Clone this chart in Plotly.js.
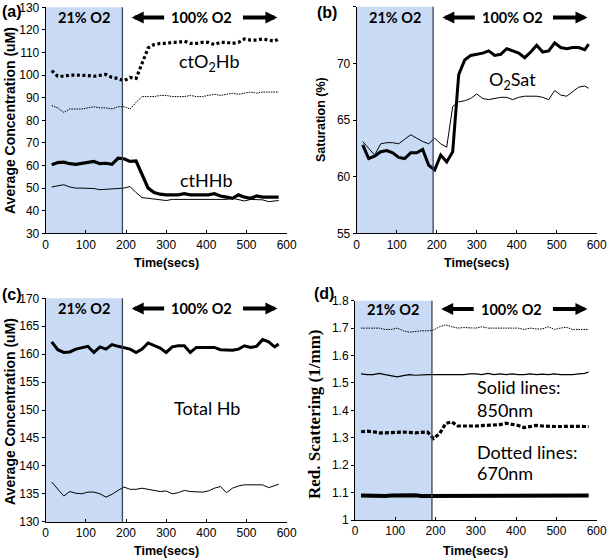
<!DOCTYPE html>
<html>
<head>
<meta charset="utf-8">
<script src="https://cdn.plot.ly/plotly-3.0.1.min.js"></script>
<style>html,body{margin:0;padding:0;background:#fff;}#chart{width:609px;height:560px;}</style>
</head>
<body>
<div id="chart"></div>
<script>
// ---- data ----
const time = [15,30,45,60,75,90,105,120,135,150,165,180,195,210,225,240,255,270,285,300,315,330,345,360,375,390,405,420,435,450,465,480,495,510,525,540,555,570,580];

// (a) concentrations (uM)
const aO2HbThick = [102,99.5,99.5,100,100,100,99.8,99.5,99.8,100.3,99,98.5,97.5,99,98.5,105.5,112,113.5,114,114,114.5,114.5,115,114,114,114.5,114.5,113.5,114.5,114.5,114,114.5,116,115.5,115.5,116,115.5,115,116];
const aO2HbThin = [86.5,85.5,83.5,85,85,85,85.5,86,85.5,85.5,85,86,86,85,88,90.5,90.5,90.5,91,91,90.5,90.5,90.5,91,90.5,90.5,91,91.5,91,91.5,92,91.5,92,92.5,92,92.5,92.5,92.5,92.5];
const aHHbThick = [60.3,61.3,61.5,60.8,60.5,61,61.5,61.8,60.8,61,60.5,63.2,63,61.8,62,56,50,48,47.3,47,47,47,47.5,47,47,47,47,47.5,46.5,46,45.5,47,46,45.5,46.5,46,46,46,46];
const aHHbThin = [50.5,51,51.5,50.5,50,50,50,49.8,49.3,49.5,49.8,50,50,50.7,48,45.8,45.5,45.3,45,44.5,45,45,45,45,45,45,45,45,45,45,45.5,45,44.3,45,45,44.8,44,44.3,44.5];

// (b) saturation (%)
const bSatThick = [62.8,61.6,61.8,62.2,62.3,62.1,61.7,61.6,62.1,62.1,62.4,61,60.6,61.9,61.3,62.2,69,70.3,70.7,70.8,70.9,71.1,70.7,70.8,71.3,71.1,70.9,70.5,71,71.6,71,71.1,71.8,71.4,71.3,71.4,71.4,71.2,71.7];
const bSatThin = [63.1,62.5,61.9,62.9,63,63,62.9,63.3,63.7,63.4,63.1,62.9,63.4,62.9,62.6,66.2,66.6,66.7,66.9,67.3,66.9,66.8,66.9,67,67,66.8,67,67.1,67.1,67.1,67,66.8,67.6,67.2,67.1,67.5,67.9,68,67.8];

// (c) total Hb (uM)
const cTotThick = [162.2,160.8,160.3,160.4,160.9,161.2,161.4,160.3,161.3,160.9,161.7,161.4,161.1,160.9,160.3,160.9,162,161.5,161.1,160.3,161.3,161.5,161.5,160.3,161.2,161.2,161.2,161.2,160.8,160.7,160.7,160.9,161.5,161.2,161.4,162.6,162.2,161.3,161.8];
const cTotThin = [137.1,135.8,134.6,135.4,135.1,135,135.3,135.3,135,134.4,134.9,135.6,136.2,135.8,135.8,136,135.8,135.6,135.4,135.5,135,135.2,135.6,135.4,135.4,135.3,135.5,136,136.3,135.2,136,136.4,136.6,136.6,136.6,136.6,136.1,136.5,136.7];

// (d) reduced scattering (1/mm)
const d670Thin = [1.70,1.70,1.70,1.70,1.695,1.695,1.70,1.69,1.685,1.688,1.69,1.69,1.693,1.705,1.712,1.705,1.70,1.702,1.70,1.70,1.705,1.70,1.70,1.70,1.70,1.698,1.70,1.695,1.70,1.697,1.697,1.705,1.695,1.70,1.703,1.695,1.695,1.695,1.695];
const d850Thin = [1.533,1.53,1.53,1.535,1.53,1.527,1.522,1.527,1.53,1.528,1.53,1.53,1.53,1.53,1.53,1.532,1.53,1.53,1.533,1.533,1.53,1.535,1.53,1.533,1.53,1.533,1.53,1.53,1.533,1.53,1.532,1.53,1.533,1.53,1.53,1.53,1.533,1.535,1.54];
const d670Thick = [1.322,1.324,1.322,1.318,1.318,1.318,1.32,1.321,1.319,1.318,1.32,1.321,1.297,1.315,1.352,1.358,1.343,1.342,1.343,1.343,1.344,1.344,1.345,1.348,1.353,1.35,1.345,1.337,1.34,1.345,1.343,1.341,1.341,1.341,1.342,1.341,1.342,1.341,1.341];
const d850Thick = [1.089,1.088,1.088,1.089,1.088,1.089,1.09,1.089,1.091,1.09,1.088,1.088,1.088,1.087,1.089,1.09,1.088,1.09,1.089,1.088,1.089,1.089,1.088,1.088,1.089,1.088,1.088,1.089,1.088,1.087,1.088,1.089,1.088,1.088,1.089,1.088,1.089,1.088,1.089];

const xTickVals = [0,100,200,300,400,500,600];
const hypoxiaEnd = 191;

// ---- traces ----
function tr(y, xa, ya, width, dash) {
  return {x: time, y: y, xaxis: xa, yaxis: ya, type: 'scatter', mode: 'lines',
          line: {color: '#000', width: width, dash: dash || 'solid'}, hoverinfo: 'skip'};
}
const DOT_THICK = '3px,2.5px';
const DOT_THIN = '1.5px,1px';
const data = [
  tr(aO2HbThin, 'x', 'y', 1, DOT_THIN),
  tr(aO2HbThick, 'x', 'y', 3.2, DOT_THICK),
  tr(aHHbThin, 'x', 'y', 1, 'solid'),
  tr(aHHbThick, 'x', 'y', 3.2, 'solid'),
  tr(bSatThin, 'x2', 'y2', 1, 'solid'),
  tr(bSatThick, 'x2', 'y2', 3, 'solid'),
  tr(cTotThin, 'x3', 'y3', 1, 'solid'),
  tr(cTotThick, 'x3', 'y3', 3, 'solid'),
  tr(d670Thin, 'x4', 'y4', 1, DOT_THIN),
  tr(d850Thin, 'x4', 'y4', 1.2, 'solid'),
  tr(d670Thick, 'x4', 'y4', 3.2, '4px,2px'),
  tr(d850Thick, 'x4', 'y4', 4, 'solid')
];

// ---- layout ----
const W = 609, H = 560;
const tickFont = {family: 'Liberation Sans, Arial, sans-serif', size: 12, color: '#000'};
function xax(d0, d1, anchor) {
  return {domain: [d0 / W, d1 / W], anchor: anchor, range: [0, 600], tickvals: xTickVals,
          showline: true, linecolor: '#000', linewidth: 1, mirror: false, showgrid: false,
          zeroline: false, ticks: 'inside', ticklen: 3, tickcolor: '#000', tickfont: tickFont, fixedrange: true};
}
function yax(top, bottom, anchor, range, dtick) {
  return {domain: [1 - bottom / H, 1 - top / H], anchor: anchor, range: range, dtick: dtick,
          showline: true, linecolor: '#000', linewidth: 1, mirror: false, showgrid: false,
          zeroline: false, ticks: 'outside', ticklen: 3, tickcolor: '#000', tickfont: tickFont, fixedrange: true};
}

const panels = [
  {xa: 'x', ya: 'y', left: 45.7, right: 286.7, top: 7.3, bottom: 233.3},
  {xa: 'x2', ya: 'y2', left: 356.7, right: 596.7, top: 6.7, bottom: 233.3},
  {xa: 'x3', ya: 'y3', left: 45.7, right: 286.7, top: 298.3, bottom: 521.7},
  {xa: 'x4', ya: 'y4', left: 355, right: 596.7, top: 300.7, bottom: 520}
];

const shapes = [];
const annotations = [];
const headerY = [17.5, 17.5, 308.5, 309];
const lblFont = {family: 'Lato, sans-serif', size: 14.5, color: '#000'};
panels.forEach((p, i) => {
  const yd = p.ya + ' domain';
  shapes.push({type: 'rect', xref: p.xa, yref: yd, x0: 0, x1: hypoxiaEnd, y0: 0, y1: 1,
               fillcolor: '#c8daf4', line: {width: 0}, layer: 'below'});
  shapes.push({type: 'line', xref: p.xa, yref: yd, x0: hypoxiaEnd, x1: hypoxiaEnd, y0: 0, y1: 1,
               line: {color: '#3a4556', width: 1.3}});
  const hy = 1 - headerY[i] / H;
  annotations.push({xref: p.xa, yref: 'paper', x: 95, y: hy, text: '<b>21% O2</b>', showarrow: false,
                    font: lblFont, xanchor: 'center', yanchor: 'middle'});
  annotations.push({xref: p.xa, yref: 'paper', x: 389, y: hy, text: '<b>100% O2</b>', showarrow: false,
                    font: lblFont, xanchor: 'center', yanchor: 'middle'});
  annotations.push({xref: p.xa, yref: 'paper', x: 214, y: hy, ax: 34, ay: 0, text: '', showarrow: true,
                    arrowhead: 2, arrowsize: 0.6, arrowwidth: 4, arrowcolor: '#000'});
  annotations.push({xref: p.xa, yref: 'paper', x: 577, y: hy, ax: -36, ay: 0, text: '', showarrow: true,
                    arrowhead: 2, arrowsize: 0.6, arrowwidth: 4, arrowcolor: '#000'});
  annotations.push({xref: 'paper', yref: 'paper', x: (p.left + p.right) / 2 / W, y: 1 - ((i < 2) ? 263 : 551) / H,
                    text: '<b>Time(secs)</b>', showarrow: false, xanchor: 'center', yanchor: 'middle',
                    font: {family: 'Liberation Sans, Arial, sans-serif', size: 12.5, color: '#000'}});
});

// y-axis titles
const yTitleFont = {family: 'Liberation Sans, Arial, sans-serif', size: 14, color: '#000'};
annotations.push({xref: 'paper', yref: 'paper', x: 10 / W, y: 1 - 121 / H, textangle: -90, showarrow: false,
                  text: '<b>Average Concentration (uM)</b>', font: yTitleFont, xanchor: 'center', yanchor: 'middle'});
annotations.push({xref: 'paper', yref: 'paper', x: 321 / W, y: 1 - 120 / H, textangle: -90, showarrow: false,
                  text: '<b>Saturation (%)</b>', font: {family: 'Liberation Sans, Arial, sans-serif', size: 12.5, color: '#000'},
                  xanchor: 'center', yanchor: 'middle'});
annotations.push({xref: 'paper', yref: 'paper', x: 10 / W, y: 1 - 412 / H, textangle: -90, showarrow: false,
                  text: '<b>Average Concentration (uM)</b>', font: yTitleFont, xanchor: 'center', yanchor: 'middle'});
annotations.push({xref: 'paper', yref: 'paper', x: 314 / W, y: 1 - 414 / H, textangle: -90, showarrow: false,
                  text: '<b>Red. Scattering (1/mm)</b>', font: {family: 'Liberation Serif, Times New Roman, serif', size: 17, color: '#000'},
                  xanchor: 'center', yanchor: 'middle'});

// panel letters
const letterFont = {family: 'Liberation Sans, Arial, sans-serif', size: 16, color: '#000'};
[['(a)', 12, 11], ['(b)', 327, 12], ['(c)', 12, 294], ['(d)', 324, 293]].forEach(l => {
  annotations.push({xref: 'paper', yref: 'paper', x: l[1] / W, y: 1 - l[2] / H, text: '<b>' + l[0] + '</b>',
                    showarrow: false, font: letterFont, xanchor: 'center', yanchor: 'middle'});
});

// in-plot labels
const txtFont = {family: 'Lato, sans-serif', size: 18, color: '#000'};
function lab(xa, ya, x, y, text) {
  annotations.push({xref: xa, yref: ya, x: x, y: y, text: text, showarrow: false, font: txtFont,
                    xanchor: 'left', yanchor: 'middle'});
}
lab('x', 'y', 327, 105.4, 'ctO<sub>2</sub>Hb');
lab('x', 'y', 329, 53.6, 'ctHHb');
lab('x2', 'y2', 326, 68.5, 'O<sub>2</sub>Sat');
lab('x3', 'y3', 314, 150.4, 'Total Hb');
lab('x4', 'y4', 298, 1.486, 'Solid lines:');
lab('x4', 'y4', 298, 1.401, '850nm');
lab('x4', 'y4', 298, 1.248, 'Dotted lines:');
lab('x4', 'y4', 298, 1.171, '670nm');

const layout = {
  width: W, height: H, margin: {l: 0, r: 0, t: 0, b: 0},
  paper_bgcolor: '#fff', plot_bgcolor: 'rgba(0,0,0,0)', showlegend: false,
  xaxis: xax(panels[0].left, panels[0].right, 'y'),
  yaxis: yax(panels[0].top, panels[0].bottom, 'x', [30, 130], 10),
  xaxis2: xax(panels[1].left, panels[1].right, 'y2'),
  yaxis2: yax(panels[1].top, panels[1].bottom, 'x2', [55, 75], 5),
  xaxis3: xax(panels[2].left, panels[2].right, 'y3'),
  yaxis3: yax(panels[2].top, panels[2].bottom, 'x3', [130, 170], 5),
  xaxis4: xax(panels[3].left, panels[3].right, 'y4'),
  yaxis4: yax(panels[3].top, panels[3].bottom, 'x4', [1, 1.8], 0.1),
  shapes: shapes, annotations: annotations
};

Plotly.newPlot('chart', data, layout, {staticPlot: true, displayModeBar: false});
</script>
</body>
</html>
